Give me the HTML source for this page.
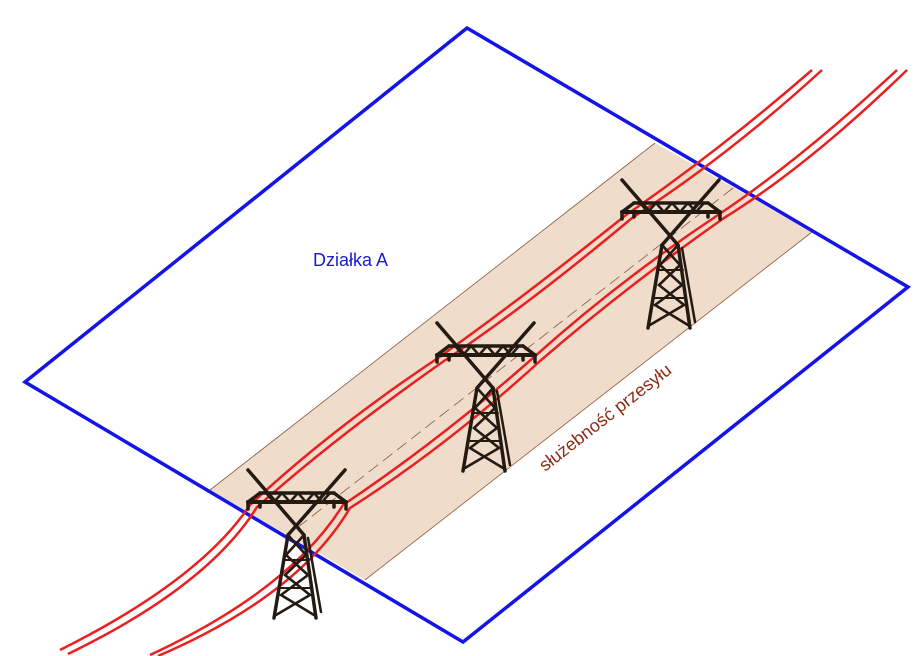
<!DOCTYPE html>
<html><head><meta charset="utf-8"><style>html,body{margin:0;padding:0;background:#fff}svg{display:block}</style></head>
<body>
<svg width="920" height="656" viewBox="0 0 920 656" xmlns="http://www.w3.org/2000/svg">
<defs>
<g id="tw" stroke="#231a12" stroke-width="3.5" fill="none" stroke-linecap="round">
  <line x1="-48" y1="-30" x2="8" y2="35"/>
  <line x1="49" y1="-30" x2="-8" y2="35"/>
  <line x1="-48" y1="2" x2="50" y2="2" stroke-width="4"/>
  <line x1="-36" y1="-7" x2="38" y2="-7"/>
  <line x1="-48" y1="2" x2="-36" y2="-7"/>
  <line x1="50" y1="2" x2="38" y2="-7"/>
  <line x1="-48" y1="2" x2="-48" y2="9"/><line x1="50" y1="2" x2="50" y2="9"/>
  <line x1="-36" y1="2" x2="-36" y2="7"/><line x1="38" y1="2" x2="38" y2="7"/>
  <polyline points="-30,-7 -22,2 -14,-7 -6,2 2,-7 10,2 18,-7 26,2 34,-7" stroke-width="2.5"/>
  <line x1="-8" y1="35" x2="-22" y2="118"/>
  <line x1="8" y1="35" x2="20" y2="118"/>
  <line x1="12" y1="38" x2="25" y2="112" stroke-width="2.5"/>
  <polyline points="-8,35 10,55 -11,75 14,95 -20,115" stroke-width="2.6"/>
  <polyline points="8,35 -10,55 12,75 -15,95 18,115" stroke-width="2.6"/>
  <line x1="-12" y1="60" x2="13" y2="60" stroke-width="2"/>
  <line x1="-16" y1="88" x2="16" y2="88" stroke-width="2"/>
</g>
</defs>
<polygon points="655,143 812,232 365,580 210,490" fill="#efdccb"/>
<line x1="655" y1="143" x2="210" y2="490" stroke="#8a5a3a" stroke-width="0.8"/>
<line x1="812" y1="232" x2="365" y2="580" stroke="#8a5a3a" stroke-width="0.8"/>
<line x1="733" y1="188" x2="288" y2="535" stroke="#8a5a3a" stroke-width="0.8" stroke-dasharray="12,6"/>
<polygon points="467,28 908,287 463,642 25,382" fill="none" stroke="#1414e6" stroke-width="3.5"/>
<g fill="none" stroke="#e82020" stroke-width="2.5">
  <path d="M60,650 Q200,580 250,505 Q330,430 438,358 Q520,300 626,215 Q720,150 812,70"/>
  <path d="M68,654 Q208,586 257,507 Q337,436 444,361 Q527,306 632,218 Q728,156 822,70"/>
  <path d="M150,655 Q290,590 343,505 Q440,440 533,358 Q620,280 718,215 Q800,160 897,70"/>
  <path d="M158,656 Q298,596 350,508 Q447,446 540,361 Q627,286 724,218 Q808,166 907,70"/>
</g>
<use href="#tw" x="296" y="500"/>
<use href="#tw" x="485" y="353"/>
<use href="#tw" x="670" y="210"/>
<text x="313" y="266" font-family="Liberation Sans, sans-serif" font-size="18" fill="#1a1ad0">Działka A</text>
<text transform="translate(545,472) rotate(-38)" font-family="Liberation Sans, sans-serif" font-size="18" fill="#8b2c14">służebność przesyłu</text>
</svg>
</body></html>
